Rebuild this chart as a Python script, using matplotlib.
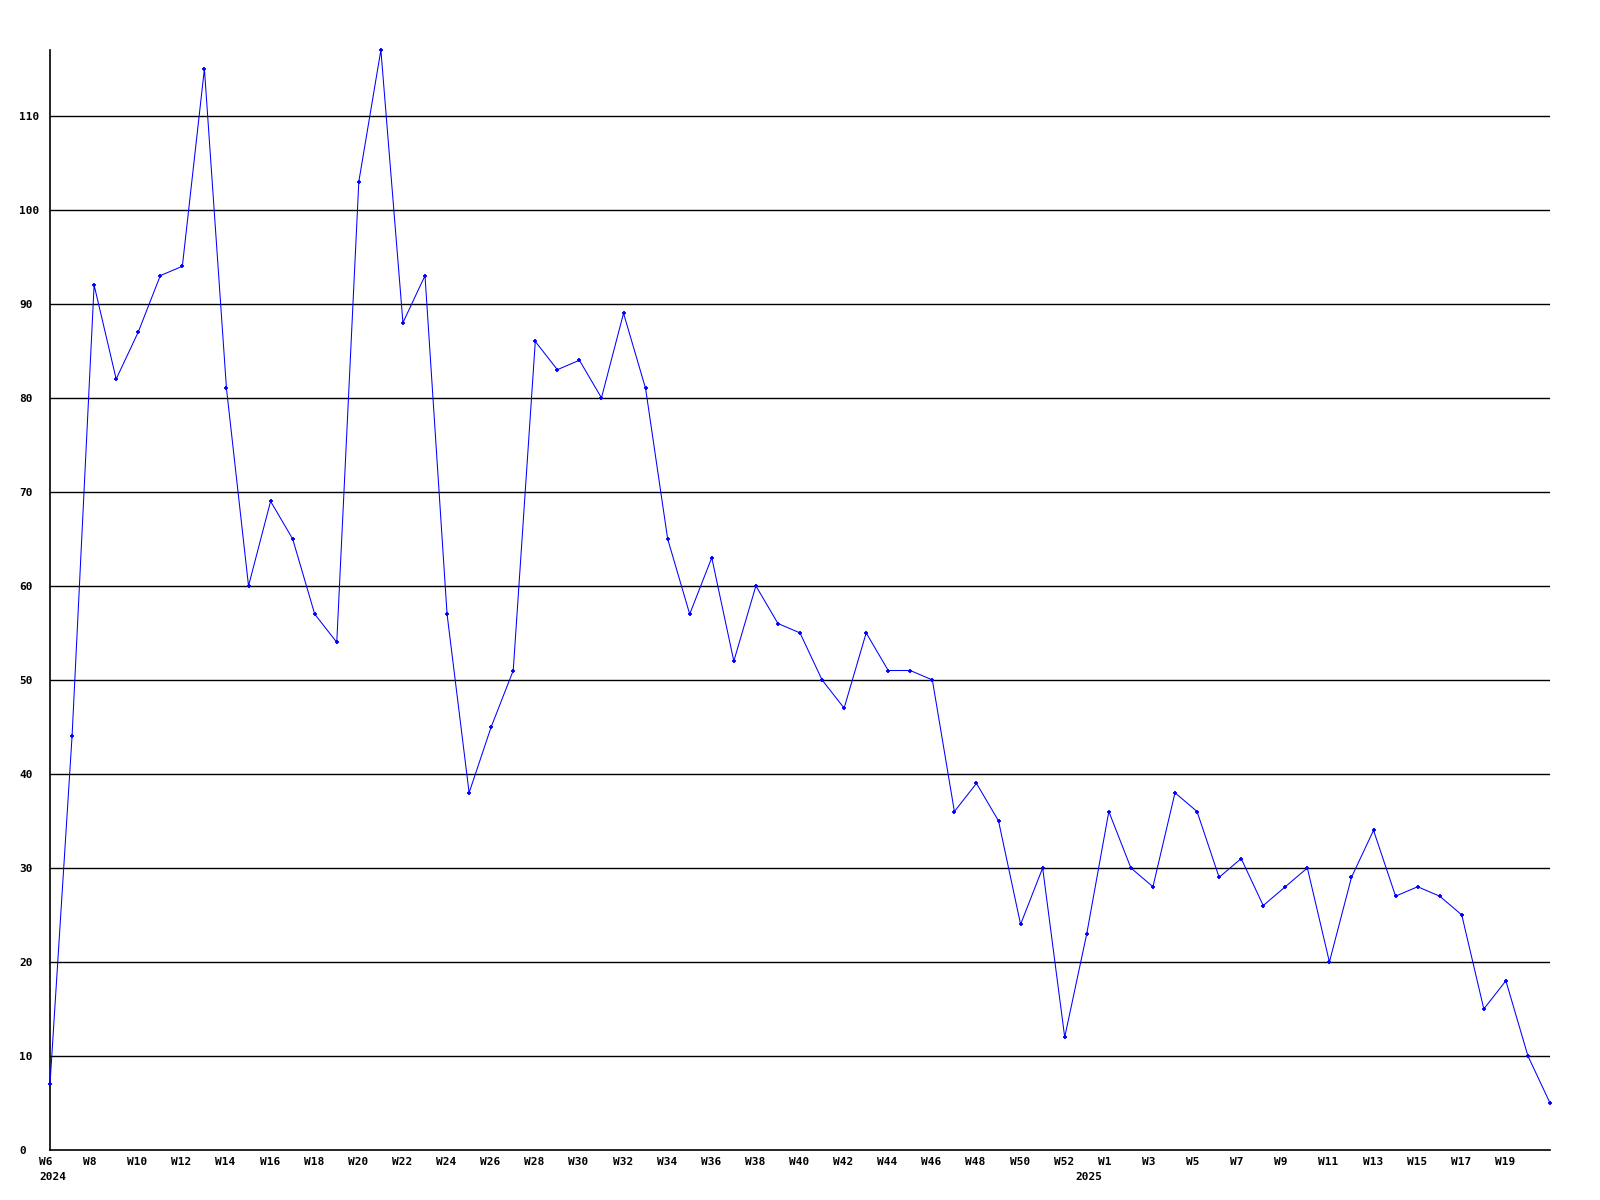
import matplotlib
matplotlib.use("Agg")
import matplotlib.pyplot as plt
import numpy as np

# weekly counts, W6 2024 .. W21 2025 (one unlabeled week between W52 and W1)
years = [2024] * 47 + [2025] * 22
weeks = list(range(6, 53)) + [0] + list(range(1, 22))
values = [7, 44, 92, 82, 87, 93, 94, 115, 81, 60, 69, 65, 57, 54, 103, 117,
          88, 93, 57, 38, 45, 51, 86, 83, 84, 80, 89, 81, 65, 57, 63, 52,
          60, 56, 55, 50, 47, 55, 51, 51, 50, 36, 39, 35, 24, 30, 12,
          23, 36, 30, 28, 38, 36, 29, 31, 26, 28, 30, 20, 29, 34, 27, 28,
          27, 25, 15, 18, 10, 5]
y_ticks = list(range(0, 111, 10))

fig = plt.figure(figsize=(16, 12), dpi=100)
ax = fig.add_axes([50 / 1600, 50 / 1200, 1500 / 1600, 1100 / 1200])

x = np.arange(len(values))
ax.plot(x, values, color="#0000ff", linewidth=0.75, marker="+",
        markersize=3.2, markeredgewidth=1.3, zorder=3, clip_on=False)

ax.set_xlim(0, len(values) - 1)
ax.set_ylim(0, 117)

for yv in y_ticks[1:]:
    ax.axhline(yv, color="black", linewidth=1.0, zorder=1)

for s in ["top", "right"]:
    ax.spines[s].set_visible(False)
for s in ["left", "bottom"]:
    ax.spines[s].set_linewidth(1.2)

font = dict(family="DejaVu Sans Mono", fontweight="bold", fontsize=8)

ax.set_yticks(y_ticks)
ax.set_yticklabels([str(v) for v in y_ticks], ha="left", **font)
ax.tick_params(axis="y", length=0, pad=22.3)
ax.set_xticks([])

# week labels under the axis, left-aligned a little before each point
trans = ax.get_xaxis_transform()
prev_year = None
for i, (yr, wk) in enumerate(zip(years, weeks)):
    show = wk != 0 and i != len(values) - 1 and (
        (yr == 2024 and wk % 2 == 0) or (yr == 2025 and wk % 2 == 1))
    if show:
        ax.annotate("W%d" % wk, xy=(i, 0), xycoords=trans,
                    xytext=(-11, -12), textcoords="offset pixels",
                    ha="left", va="center", **font)
    if yr != prev_year:
        ax.annotate(str(yr), xy=(i, 0), xycoords=trans,
                    xytext=(-11, -27), textcoords="offset pixels",
                    ha="left", va="center", **font)
        prev_year = yr

fig.savefig("out.png", dpi=100, facecolor="white")
